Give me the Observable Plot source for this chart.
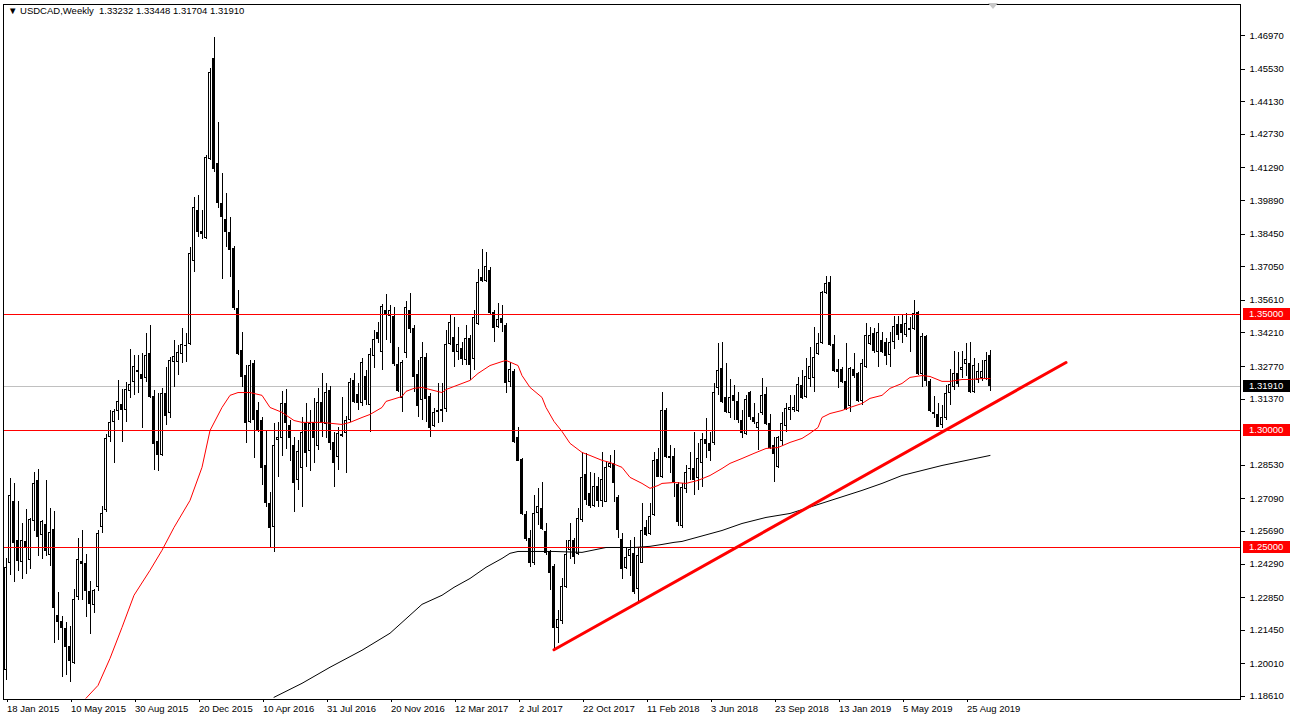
<!DOCTYPE html>
<html><head><meta charset="utf-8">
<script src="https://cdn.jsdelivr.net/npm/d3@7"></script>
<script src="https://cdn.jsdelivr.net/npm/@observablehq/plot@0.6"></script>
<style>
body{margin:0;background:#fff;}
#wrap{position:relative;width:1292px;height:722px;overflow:hidden;background:#fff;}
#hdr{position:absolute;left:8px;top:5px;font:9.5px "Liberation Sans";color:#000;white-space:pre;}
#shift{position:absolute;left:988px;top:3px;width:0;height:0;border-left:5px solid transparent;border-right:5px solid transparent;border-top:6px solid #c8c8c8;}
</style></head><body><div id="wrap"><div id="chart"></div><div id="hdr">▼ USDCAD,Weekly  1.33232 1.33448 1.31704 1.31910</div><div id="shift"></div></div>
<script>
const opens = [
1.1973,1.2431,1.2698,1.2531,1.2435,1.2527,1.2445,1.2613,1.2788,1.2550,
1.2600,1.2464,1.2577,1.2209,1.2181,1.2152,1.2076,1.2002,1.2285,1.2438,
1.2431,1.2312,1.2252,1.2328,1.2585,1.2660,1.2970,1.3035,1.3085,1.3112,
1.3088,1.3171,1.3207,1.3260,1.3243,1.3224,1.3331,1.3148,1.2955,1.2895,
1.3160,1.3074,1.3296,1.3296,1.3330,1.3365,1.3370,1.3729,1.3946,1.3856,
1.3825,1.4165,1.4597,1.4146,1.3975,1.3908,1.3853,1.3782,1.3524,1.3346,
1.3238,1.3038,1.3288,1.3088,1.3045,1.2850,1.2688,1.2585,1.2960,1.2968,
1.3120,1.3024,1.2938,1.2788,1.2838,1.3031,1.2910,1.3038,1.2935,1.3124,
1.3028,1.3174,1.2952,1.2888,1.2985,1.2991,1.3045,1.3217,1.3157,1.3117,
1.3234,1.3110,1.3321,1.3421,1.3336,1.3517,1.3492,1.3492,1.3284,1.3138,
1.3331,1.3517,1.3439,1.3241,1.3131,1.3317,1.3147,1.3021,1.3088,1.3091,
1.3091,1.3371,1.3403,1.3339,1.3353,1.3303,1.3396,1.3306,1.3456,1.3658,
1.3643,1.3689,1.3510,1.3443,1.3481,1.3453,1.3210,1.3256,1.2970,1.2878,
1.2642,1.2538,1.2433,1.2648,1.2666,1.2569,1.2481,1.2419,1.2154,1.2184,
1.2327,1.2485,1.2528,1.2470,1.2616,1.2814,1.2730,1.2676,1.2762,1.2699,
1.2695,1.2845,1.2862,1.2714,1.2533,1.2409,1.2462,1.2473,1.2319,1.2433,
1.2585,1.2556,1.2638,1.2877,1.2802,1.3088,1.2891,1.2891,1.2771,1.2588,
1.2748,1.2841,1.2841,1.2795,1.2862,1.2962,1.2945,1.2945,1.3181,1.3267,
1.3145,1.3077,1.3153,1.3127,1.3045,1.2985,1.3167,1.3057,1.3010,1.3074,
1.3157,1.3031,1.2938,1.2842,1.2955,1.3020,1.3088,1.3088,1.3085,1.3196,
1.3145,1.3220,1.3224,1.3328,1.3377,1.3592,1.3639,1.3371,1.3263,1.3263,
1.3214,1.3103,1.3263,1.3246,1.3128,1.3271,1.3371,1.3420,1.3338,1.3389,
1.3381,1.3324,1.3379,1.3455,1.3457,1.3410,1.3441,1.3434,1.3507,1.3243,
1.3406,1.3213,1.3078,1.3071,1.3024,1.3053,1.3160,1.3188,1.3246,1.3260,
1.3285,1.3288,1.3167,1.3217,1.3224,1.3220,1.33232
];
const highs = [
1.2452,1.2796,1.2774,1.2698,1.2603,1.2664,1.2624,1.2821,1.2836,1.2617,
1.2786,1.2667,1.2653,1.2305,1.2202,1.2178,1.2159,1.2319,1.2538,1.2571,
1.2469,1.2352,1.2319,1.2571,1.2676,1.2985,1.3088,1.3092,1.3217,1.3178,
1.3210,1.3348,1.3324,1.3324,1.3331,1.3417,1.3453,1.3174,1.3160,1.3181,
1.3274,1.3317,1.3388,1.3367,1.3440,1.3417,1.3789,1.4003,1.4011,1.3946,
1.4182,1.4554,1.4687,1.4325,1.4104,1.4018,1.3918,1.3790,1.3603,1.3424,
1.3281,1.3303,1.3303,1.3124,1.3060,1.3002,1.2738,1.3034,1.3038,1.3170,
1.3180,1.3045,1.2974,1.2960,1.3060,1.3117,1.3088,1.3138,1.3181,1.3248,
1.3203,1.3191,1.2995,1.3017,1.3145,1.3062,1.3224,1.3246,1.3203,1.3310,
1.3260,1.3353,1.3431,1.3467,1.3543,1.3586,1.3539,1.3532,1.3360,1.3303,
1.3557,1.3592,1.3453,1.3303,1.3381,1.3331,1.3160,1.3095,1.3203,1.3205,
1.3431,1.3496,1.3489,1.3446,1.3381,1.3453,1.3410,1.3517,1.3692,1.3780,
1.3765,1.3703,1.3517,1.3546,1.3539,1.3460,1.3296,1.3263,1.3017,1.2881,
1.2656,1.2573,1.2724,1.2752,1.2777,1.2605,1.2488,1.2425,1.2230,1.2366,
1.2530,1.2602,1.2538,1.2666,1.2909,1.2902,1.2824,1.2816,1.2802,1.2909,
1.2867,1.2895,1.2917,1.2724,1.2559,1.2495,1.2530,1.2545,1.2502,1.2688,
1.2616,1.2688,1.2909,1.2924,1.3167,1.3095,1.2938,1.2924,1.2781,1.2774,
1.2852,1.2909,1.2995,1.2945,1.2991,1.3053,1.2995,1.3203,1.3377,1.3381,
1.3288,1.3220,1.3196,1.3167,1.3088,1.3153,1.3171,1.3117,1.3074,1.3224,
1.3188,1.3071,1.2971,1.2977,1.3080,1.3120,1.3153,1.3153,1.3231,1.3260,
1.3310,1.3357,1.3443,1.3417,1.3600,1.3663,1.3663,1.3410,1.3306,1.3274,
1.3374,1.3271,1.3331,1.3250,1.3306,1.3463,1.3446,1.3439,1.3460,1.3424,
1.3396,1.3424,1.3492,1.3490,1.3496,1.3503,1.3489,1.3560,1.3514,1.3417,
1.3410,1.3220,1.3148,1.3117,1.3110,1.3195,1.3263,1.3341,1.3338,1.3343,
1.3374,1.3378,1.3310,1.3288,1.3303,1.3338,1.33448
];
const lows = [
1.1930,1.2381,1.2348,1.2395,1.2362,1.2384,1.2405,1.2567,1.2462,1.2448,
1.2460,1.2417,1.2088,1.2102,1.1942,1.1952,1.1920,1.1999,1.2271,1.2274,
1.2199,1.2126,1.2216,1.2312,1.2562,1.2650,1.2950,1.2859,1.3045,1.2950,
1.3038,1.3138,1.3153,1.3160,1.3010,1.3210,1.3140,1.2831,1.2828,1.2891,
1.3024,1.3052,1.3188,1.3238,1.3290,1.3295,1.3365,1.3682,1.3832,1.3820,
1.3820,1.4161,1.4111,1.3953,1.3649,1.3789,1.3660,1.3517,1.3324,1.3188,
1.2945,1.3031,1.2881,1.2995,1.2766,1.2673,1.2495,1.2480,1.2802,1.2890,
1.2920,1.2867,1.2652,1.2745,1.2673,1.2845,1.2828,1.2859,1.2917,1.2974,
1.2967,1.2917,1.2759,1.2831,1.2974,1.2817,1.3038,1.3117,1.3088,1.3103,
1.3110,1.2995,1.3267,1.3374,1.3260,1.3388,1.3374,1.3278,1.3167,1.3081,
1.3310,1.3417,1.3167,1.3060,1.3045,1.3035,1.2970,1.3017,1.3031,1.3038,
1.3081,1.3367,1.3271,1.3303,1.3281,1.3281,1.3217,1.3260,1.3453,1.3639,
1.3639,1.3496,1.3381,1.3439,1.3424,1.3160,1.3188,1.2945,1.2867,1.2638,
1.2526,1.2413,1.2423,1.2595,1.2573,1.2466,1.2316,1.2061,1.2090,1.2170,
1.2323,1.2448,1.2428,1.2466,1.2609,1.2681,1.2666,1.2671,1.2671,1.2671,
1.2691,1.2841,1.2695,1.2538,1.2362,1.2405,1.2376,1.2300,1.2266,1.2430,
1.2548,1.2552,1.2633,1.2799,1.2795,1.2881,1.2817,1.2716,1.2588,1.2581,
1.2731,1.2788,1.2724,1.2745,1.2759,1.2881,1.2867,1.2938,1.3153,1.3117,
1.3074,1.3053,1.3045,1.3034,1.2967,1.2981,1.3045,1.3028,1.2917,1.3067,
1.3024,1.2920,1.2777,1.2838,1.2935,1.2995,1.3045,1.3081,1.3081,1.3134,
1.3138,1.3186,1.3167,1.3324,1.3371,1.3586,1.3363,1.3253,1.3181,1.3203,
1.3088,1.3081,1.3224,1.3124,1.3110,1.3267,1.3367,1.3331,1.3274,1.3331,
1.3281,1.3274,1.3350,1.3390,1.3374,1.3403,1.3338,1.3431,1.3238,1.3188,
1.3190,1.3081,1.3052,1.3014,1.3010,1.3045,1.3110,1.3174,1.3188,1.3225,
1.3232,1.3160,1.3160,1.3203,1.3213,1.3217,1.31704
];
const closes = [
1.2416,1.2724,1.2517,1.2442,1.2531,1.2495,1.2621,1.2774,1.2545,1.2613,
1.2481,1.2564,1.2238,1.2176,1.2152,1.2071,1.2009,1.2276,1.2449,1.2428,
1.2309,1.2256,1.2314,1.2560,1.2648,1.2967,1.3035,1.3085,1.3128,1.3088,
1.3178,1.3200,1.3277,1.3253,1.3220,1.3324,1.3145,1.2941,1.2895,1.3160,
1.3064,1.3303,1.3321,1.3336,1.3370,1.3368,1.3763,1.3961,1.3853,1.3842,
1.4172,1.4537,1.4121,1.3975,1.3918,1.3853,1.3775,1.3524,1.3328,1.3231,
1.3031,1.3281,1.3045,1.3002,1.2838,1.2688,1.2581,1.2938,1.2974,1.3120,
1.3033,1.2967,1.2774,1.2910,1.2995,1.2902,1.3031,1.2967,1.3121,1.3031,
1.3164,1.2948,1.2859,1.2991,1.2977,1.3045,1.3210,1.3121,1.3120,1.3296,
1.3131,1.3328,1.3391,1.3391,1.3534,1.3496,1.3517,1.3284,1.3171,1.3296,
1.3529,1.3434,1.3231,1.3107,1.3314,1.3136,1.3010,1.3078,1.3081,1.3085,
1.3371,1.3464,1.3339,1.3371,1.3306,1.3396,1.3281,1.3489,1.3639,1.3643,
1.3706,1.3503,1.3441,1.3479,1.3460,1.3205,1.3263,1.2952,1.2871,1.2642,
1.2533,1.2430,1.2648,1.2674,1.2576,1.2476,1.2388,1.2154,1.2192,1.2333,
1.2469,1.2528,1.2456,1.2623,1.2802,1.2702,1.2676,1.2762,1.2699,1.2791,
1.2842,1.2859,1.2774,1.2571,1.2405,1.2456,1.2490,1.2305,1.2466,1.2573,
1.2552,1.2633,1.2874,1.2802,1.3088,1.2885,1.2881,1.2777,1.2609,1.2759,
1.2824,1.2834,1.2788,1.2881,1.2962,1.2941,1.2914,1.3167,1.3260,1.3124,
1.3081,1.3145,1.3127,1.3045,1.2988,1.3134,1.3057,1.3038,1.3038,1.3153,
1.3027,1.2924,1.2899,1.2974,1.3033,1.3095,1.3100,1.3100,1.3200,1.3138,
1.3234,1.3277,1.3314,1.3374,1.3596,1.3632,1.3367,1.3257,1.3253,1.3210,
1.3091,1.3267,1.3234,1.3128,1.3291,1.3410,1.3410,1.3343,1.3424,1.3338,
1.3320,1.3381,1.3449,1.3412,1.3417,1.3460,1.3431,1.3506,1.3243,1.3406,
1.3213,1.3085,1.3071,1.3017,1.3060,1.3160,1.3200,1.3246,1.3198,1.3274,
1.3306,1.3167,1.3281,1.3256,1.3256,1.3303,1.31910
];
// moving averages (week index, value)
const maRedWeek = [20,23,26,29,32,36,39,42,46,49,51,54,56,58,61,64,66,69,72,74,79,84,86,89,91,94,95,99,100,102,104,106,109,110,114,116,118,121,124,125,128,129,131,134,135,137,139,141,144,146,149,151,154,156,159,161,163,164,167,170,173,176,179,181,184,187,190,193,196,199,201,203,204,206,209,211,214,216,219,221,224,226,229,231,234,236,239,241,244,246];
const maRedVal = [1.1853,1.1908,1.2024,1.2157,1.2295,1.2402,1.2488,1.2586,1.2702,1.2844,1.3002,1.3101,1.3153,1.3165,1.3165,1.3153,1.3101,1.3080,1.3045,1.3037,1.3037,1.3028,1.3037,1.3058,1.3071,1.3101,1.3127,1.3148,1.3170,1.3183,1.3187,1.3178,1.3165,1.3178,1.3204,1.3217,1.3247,1.3281,1.3298,1.3303,1.3281,1.3238,1.3187,1.3144,1.3101,1.3041,1.2998,1.2947,1.2908,1.2895,1.2874,1.2865,1.2844,1.2801,1.2775,1.2754,1.2766,1.2775,1.2779,1.2775,1.2788,1.2809,1.2839,1.2861,1.2882,1.2904,1.2925,1.2929,1.2951,1.2968,1.2990,1.3015,1.3058,1.3075,1.3088,1.3101,1.3118,1.3140,1.3153,1.3183,1.3204,1.3230,1.3238,1.3234,1.3213,1.3213,1.3221,1.3221,1.3225,1.3225];
const maBlackWeek = [67,74,81,89,96,104,109,112,116,120,124,126,128,131,137,144,150,157,161,164,167,169,179,184,190,196,214,219,224,234,246];
const maBlackVal = [1.1857,1.1917,1.1986,1.2059,1.2132,1.2256,1.2295,1.2329,1.2367,1.2415,1.2453,1.2475,1.2483,1.2483,1.2483,1.2479,1.2500,1.2500,1.2505,1.2513,1.2522,1.2526,1.2573,1.2603,1.2629,1.2646,1.2745,1.2775,1.2809,1.2852,1.2895];
const trendWeek = [137, 265];
const trendVal = [1.2061, 1.3294];
const levels = [1.35, 1.30, 1.25];
const bid = 1.31910;
const priceTicks = [1.46970,1.45530,1.44130,1.42730,1.41290,1.39890,1.38450,1.37050,1.35610,1.34210,1.32770,1.31370,1.28530,1.27090,1.25690,1.24290,1.22850,1.21450,1.20010,1.18610];
const dateWeek = [0,16,32,48,64,80,96,112,128,144,160,176,192,208,224,240];
const dateLabels = ["18 Jan 2015","10 May 2015","30 Aug 2015","20 Dec 2015","10 Apr 2016","31 Jul 2016","20 Nov 2016","12 Mar 2017","2 Jul 2017","22 Oct 2017","11 Feb 2018","3 Jun 2018","23 Sep 2018","13 Jan 2019","5 May 2019","25 Aug 2019"];

const candles = opens.map((o, i) => ({i, o, h: highs[i], l: lows[i], c: closes[i]}));
const up = candles.filter(d => d.c >= d.o);
const down = candles.filter(d => d.c < d.o);
const flat = candles.filter(d => Math.abs(d.c - d.o) < 0.0004);
const maRed = maRedWeek.map((w, k) => ({w, v: maRedVal[k]}));
const maBlack = maBlackWeek.map((w, k) => ({w, v: maBlackVal[k]}));
const trend = trendWeek.map((w, k) => ({w, v: trendVal[k]}));
const crisp = {shapeRendering: "crispEdges"};
const bx1 = d => d.i - 0.375, bx2 = d => d.i + 0.375;
const dateOf = w => dateLabels[dateWeek.indexOf(w)];

const chart = Plot.plot({
  width: 1292, height: 722,
  marginLeft: 3, marginRight: 52, marginTop: 4, marginBottom: 23,
  style: {background: "white", fontFamily: "Liberation Sans", fontSize: "9.5px", color: "black", overflow: "visible"},
  x: {domain: [-0.625, 308.625], axis: null},
  y: {domain: [1.18476, 1.48305], axis: null},
  marks: [
    Plot.ruleY([bid], {stroke: "#c0c0c0", ...crisp}),
    Plot.ruleX(candles, {x: "i", y1: "l", y2: "h", stroke: "black", ...crisp}),
    Plot.rect(down, {x1: bx1, x2: bx2, y1: "o", y2: "c", fill: "black", ...crisp}),
    Plot.rect(up, {x1: bx1, x2: bx2, y1: "o", y2: "c", fill: "black", ...crisp}),
    Plot.rect(up, {x1: bx1, x2: bx2, y1: "o", y2: "c", fill: "white", insetLeft: 1, insetRight: 1, insetTop: 1, insetBottom: 1, ...crisp}),
    Plot.ruleY(flat, {x1: bx1, x2: bx2, y: "c", stroke: "black", ...crisp}),
    Plot.ruleY(levels, {stroke: "#ff0000", ...crisp}),
    Plot.line(maBlack, {x: "w", y: "v", stroke: "black", strokeWidth: 1, clip: true}),
    Plot.line(maRed, {x: "w", y: "v", stroke: "#ff0000", strokeWidth: 1, clip: true}),
    Plot.line(trend, {x: "w", y: "v", stroke: "#ff0000", strokeWidth: 3}),
    Plot.frame({stroke: "black", ...crisp}),
    Plot.axisY({anchor: "right", ticks: priceTicks, tickFormat: d => d.toFixed(5), tickSize: 4, tickPadding: 5, ...crisp}),
    Plot.axisX({anchor: "bottom", ticks: dateWeek, tickFormat: dateOf, tickSize: 3, tickPadding: 3, textAnchor: "start", dx: 1, ...crisp})
  ]
});
document.getElementById("chart").appendChild(chart);

// price label boxes on the right scale, placed with the plot's own y scale
const ys = chart.scale("y");
const svg = d3.select(chart);
const boxes = [...levels.map(v => ({v, fill: "#ff0000"})), {v: bid, fill: "#000000"}];
for (const b of boxes) {
  const y = Math.round(ys.apply(b.v));
  svg.append("rect").attr("x", 1243).attr("y", y - 6).attr("width", 47).attr("height", 12).attr("fill", b.fill);
  svg.append("text").attr("x", 1249).attr("y", y).attr("dy", "0.34em").attr("fill", "white")
    .attr("text-anchor", "start")
    .style("font", "9.5px 'Liberation Sans'").text(b.v.toFixed(5));
}
</script>
</body></html>
